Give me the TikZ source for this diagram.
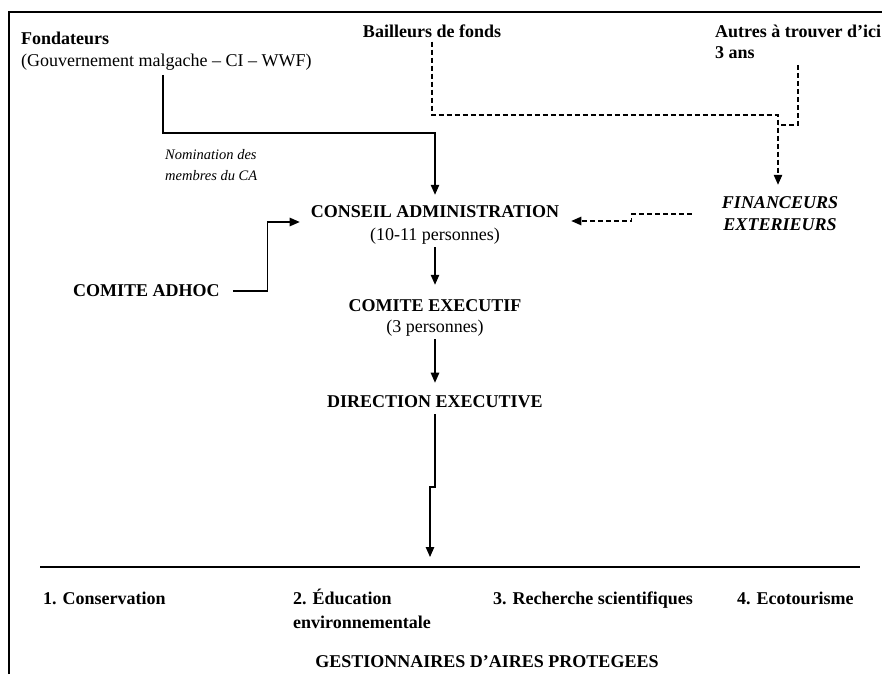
\documentclass[tikz,border=0pt]{standalone}
\usepackage{fontspec}
\setmainfont{Liberation Serif}
\usetikzlibrary{arrows.meta}

\tikzset{
  every node/.style={inner sep=1pt},
  conn/.style={line width=1.1pt, -{Triangle[length=10pt,width=8.5pt]}},
  dline/.style={line width=1.1pt, dash pattern=on 5pt off 3pt},
  dconn/.style={conn, dash pattern=on 5pt off 3pt},
  frame/.style={line width=1.8pt},
  item/.style={anchor=base west, font=\fontsize{18}{24}\selectfont\bfseries, align=left},
}

\begin{document}
\begin{tikzpicture}[x=1pt,y=-1pt,font=\fontsize{18}{20}\selectfont]
\useasboundingbox (0,0) rectangle (882,674);

% cadre
\draw[frame] (9,674) -- (9,12) -- (882,12);

% sources
\node[anchor=west] (fond_title) at (20,38) {\textbf{Fondateurs}};
\node[anchor=west] (fond_org) at (20,62) {(Gouvernement malgache -- CI -- WWF)};
\node (bail) at (432,31) {\textbf{Bailleurs de fonds}};
\node[anchor=west] (autres_title) at (714,31) {\textbf{Autres à trouver d'ici}};
\node[anchor=west] (autres_delai) at (714,53) {\textbf{3 ans}};

\node[anchor=west, align=left, font=\fontsize{14.5}{21}\selectfont\itshape] (nomination) at (164,165) {Nomination des\\membres du CA};

% organes
\node (ca) at (435,212) {\textbf{CONSEIL ADMINISTRATION}};
\node (ca_nb) at (435,236) {(10-11 personnes)};
\node[align=center, font=\fontsize{18}{22}\selectfont\bfseries\itshape] (fin) at (780,214) {FINANCEURS\\EXTERIEURS};
\node[anchor=west] (adhoc) at (72,291) {\textbf{COMITE ADHOC}};
\node (ce) at (435,306) {\textbf{COMITE EXECUTIF}};
\node (ce_nb) at (435,328) {(3 personnes)};
\node (de) at (435,402) {\textbf{DIRECTION EXECUTIVE}};

% gestionnaires
\coordinate (base_l) at (40,567);
\coordinate (base_r) at (860,567);
\draw[line width=1.2pt] (base_l) -- (base_r);
\node[item] (cons) at (42,604) {1. Conservation};
\node[item] (educ) at (292,628) {2. Éducation\\environnementale};
\node[item] (rech) at (492,604) {3. Recherche scientifiques};
\node[item] (eco) at (736,604) {4. Ecotourisme};
\node (gest) at (487,662) {\textbf{GESTIONNAIRES D'AIRES PROTEGEES}};

% liaisons
\coordinate (fond_out) at (163,75);
\coordinate (fond_bend) at (435,133);
\draw[conn] (fond_out) |- (fond_bend) -- ([yshift=10pt]ca.north);

\coordinate (bail_bend) at (778,115);
\draw[dconn] ([yshift=-3pt]bail.south) |- (bail_bend) -- ([shift={(-2pt,11pt)}]fin.north);
\coordinate (autres_out) at (798,65);
\coordinate (autres_join) at (778,125);
\draw[dline] (autres_out) |- (autres_join);

\draw[dconn] ([xshift=-29pt]fin.west) -- ++(-60,0) |- ([shift={(11pt,-9pt)}]ca.east);
\draw[conn] ([xshift=12pt]adhoc.east) -- ++(35,0) |- ([shift={(-10pt,-10pt)}]ca.west);

\draw[conn] ([yshift=-2pt]ca_nb.south) -- ([yshift=14pt]ce.north);
\draw[conn] ([yshift=-2pt]ce_nb.south) -- ([yshift=12pt]de.north);

\coordinate (de_jog_a) at (435,487);
\coordinate (de_jog_b) at (430,487);
\coordinate (gest_in) at (430,557);
\draw[conn] ([yshift=-5pt]de.south) -- (de_jog_a) -- (de_jog_b) -- (gest_in);
\end{tikzpicture}
\end{document}
